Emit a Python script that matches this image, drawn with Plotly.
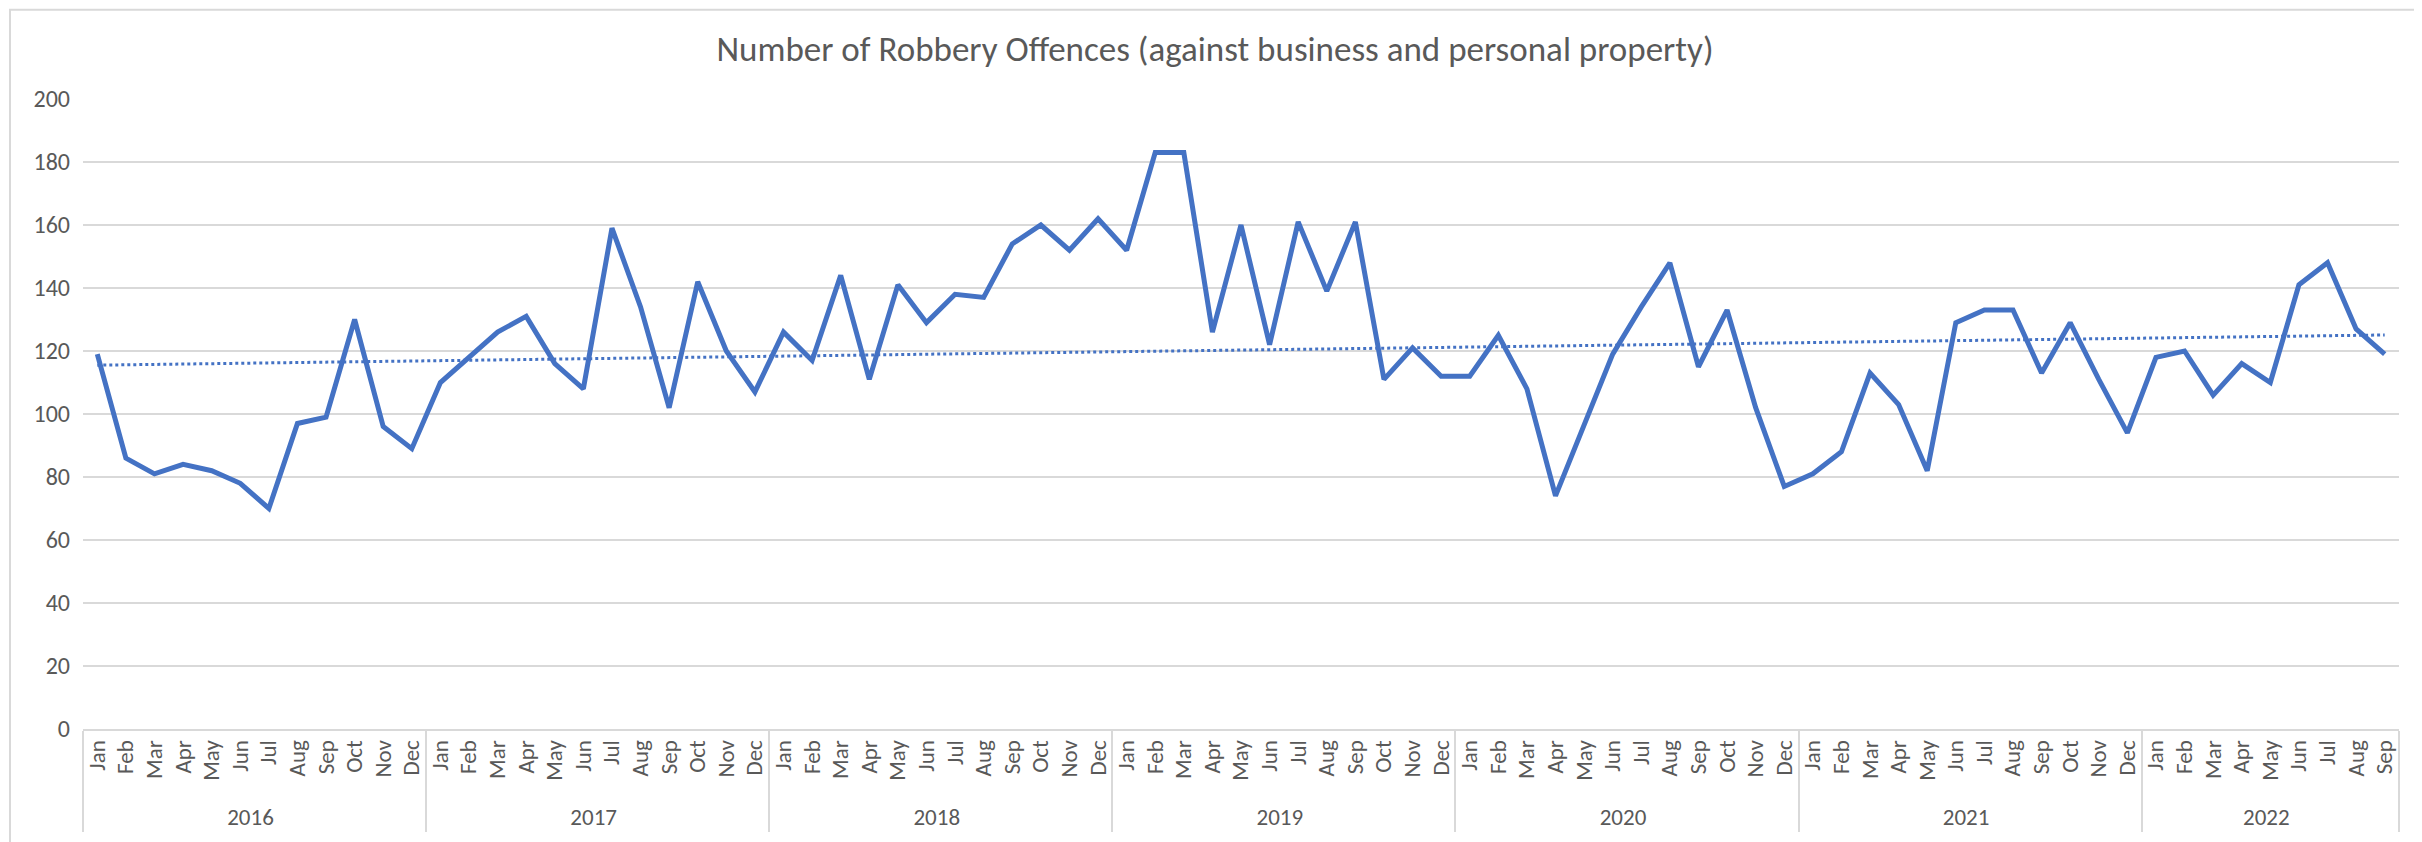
import numpy as np
import plotly.graph_objects as go

title = "Number of Robbery Offences (against business and personal property)"
month_names = ["Jan", "Feb", "Mar", "Apr", "May", "Jun", "Jul", "Aug", "Sep", "Oct", "Nov", "Dec"]

v2016 = [119, 86, 81, 84, 82, 78, 70, 97, 99, 130, 96, 89]
v2017 = [110, 118, 126, 131, 116, 108, 159, 134, 102, 142, 120, 107]
v2018 = [126, 117, 144, 111, 141, 129, 138, 137, 154, 160, 152, 162]
v2019 = [152, 183, 183, 126, 160, 122, 161, 139, 161, 111, 121, 112]
v2020 = [112, 125, 108, 74, 97, 119, 134, 148, 115, 133, 102, 77]
v2021 = [81, 88, 113, 103, 82, 129, 133, 133, 113, 129, 111, 94]
v2022 = [118, 120, 106, 116, 110, 141, 148, 127, 119]

series = {"2016": v2016, "2017": v2017, "2018": v2018, "2019": v2019,
          "2020": v2020, "2021": v2021, "2022": v2022}

years_x, months_x, values = [], [], []
for yr, vals in series.items():
    for i, v in enumerate(vals):
        years_x.append(yr)
        months_x.append(month_names[i])
        values.append(v)

idx = np.arange(len(values))
slope, intercept = np.polyfit(idx, values, 1)
trend = list(slope * idx + intercept)

BLUE = "#4472C4"
GRID = "#D9D9D9"
TXT = "#595959"
FONT = "Carlito, Calibri, Lato, sans-serif"

# page body has an 8px margin, so the figure is offset by 8px
W, H = 2414, 834
L, T, R, B = 75, 91, 23, 108
PW, PH = W - L - R, H - T - B

fig = go.Figure()
fig.add_trace(go.Scatter(x=[years_x, months_x], y=values, mode="lines",
                         line=dict(color=BLUE, width=5), showlegend=False))
fig.add_trace(go.Scatter(x=[years_x, months_x], y=trend, mode="lines",
                         line=dict(color=BLUE, width=3, dash="dot"), showlegend=False))

fig.update_layout(
    width=W, height=H,
    margin=dict(l=L, r=R, t=T, b=B),
    paper_bgcolor="white", plot_bgcolor="white",
    font=dict(family=FONT, color=TXT, size=23),
    title=dict(text=title, x=0.5, xanchor="center", y=1 - 41 / H, yanchor="middle",
               font=dict(family=FONT, size=35, color=TXT)),
    xaxis=dict(type="multicategory", range=[-0.5, len(values) - 0.5],
               tickangle=-90, showgrid=False, showline=True, linecolor=GRID, linewidth=2,
               showdividers=True, dividercolor=GRID, dividerwidth=2,
               ticks="", tickfont=dict(size=23, color=TXT)),
    yaxis=dict(range=[0, 200], dtick=20, showgrid=True, gridcolor=GRID, gridwidth=2,
               zeroline=False, showline=False, ticks="", tickfont=dict(size=24, color=TXT),
               ticklabelstandoff=12),
)

# chart area border (left and top edges visible in the reference)
fig.add_shape(type="rect", xref="paper", yref="paper",
              x0=(2 - L) / PW, x1=(W + 20 - L) / PW,
              y0=-(H + 20 - (T + PH)) / PH, y1=1 + (T - 1) / PH,
              line=dict(color=GRID, width=2), fillcolor="rgba(0,0,0,0)", layer="below")

fig.write_html("out.html")
